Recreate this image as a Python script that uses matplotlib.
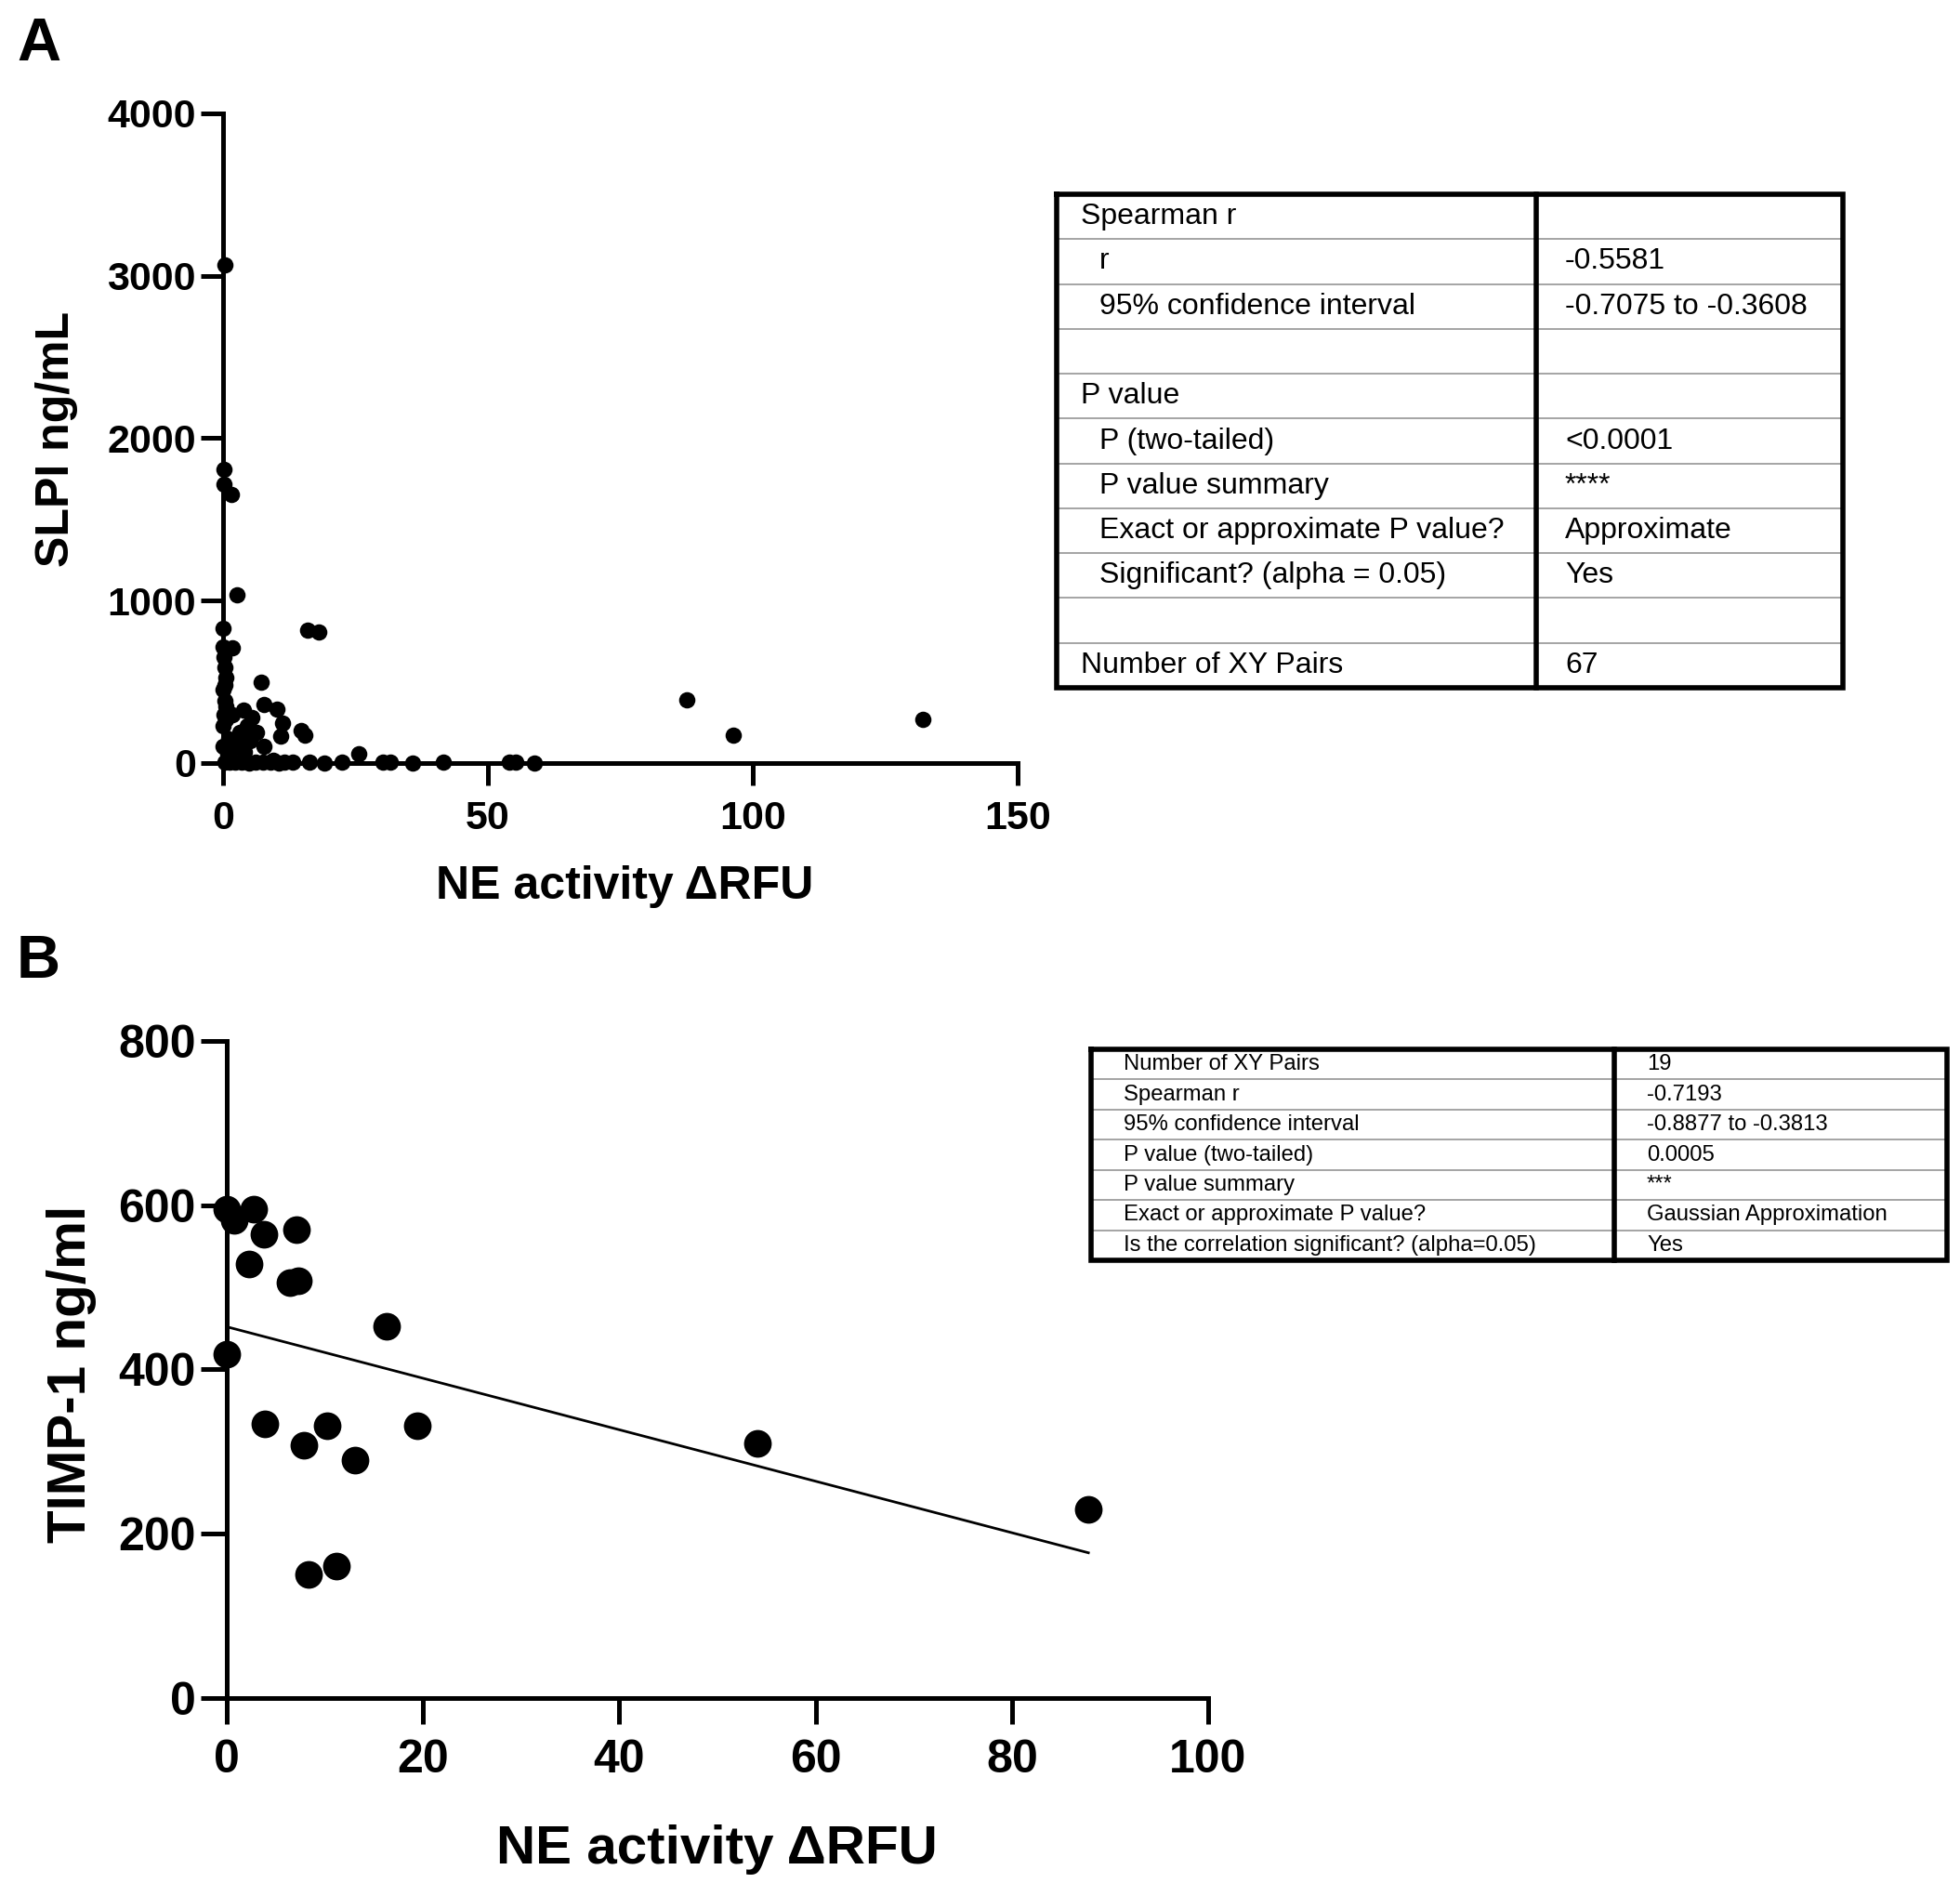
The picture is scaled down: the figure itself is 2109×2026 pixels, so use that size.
import numpy as np
import matplotlib.pyplot as plt

plt.rcParams['font.family'] = ['Liberation Sans', 'DejaVu Sans']

# panel A: SLPI vs NE activity (67 pairs)
slpi_ne = [0.3, 0.1, 0.1, 1.5, 2.6, 0.0, 0.0, 1.7, 16.0, 18.0,
           0.3, 0.6, 0.0, 7.2, 0.3, 0.6, 7.8, 10.2, 3.8, 5.5,
           11.3, 0.0, 14.8, 15.4, 3.2, 6.4, 10.8, 2.9, 7.8, 0.0,
           25.6, 1.8, 4.5, 87.6, 96.3, 132.1,
           0.3, 1.2, 2.3, 3.5, 4.9, 6.1, 7.6, 9.0, 10.5, 11.6, 13.1,
           16.3, 19.2, 22.4, 30.2, 31.5, 35.8, 41.5, 54.1, 55.3, 58.8,
           0.2, 0.4, 0.1, 0.5, 1.0, 0.8, 2.0, 4.0, 5.0, 9.5]
slpi_conc = [3070, 1808, 1718, 1655, 1036, 830, 716, 710, 817, 805,
             592, 525, 450, 500, 385, 350, 363, 334, 324, 280,
             248, 230, 200, 172, 190, 190, 165, 143, 105, 105,
             60, 300, 230, 387, 170, 271,
             8, 5, 3, 4, 2, 6, 3, 5, 2, 4, 3,
             6, 2, 4, 3, 5, 2, 4, 3, 5, 2,
             650, 480, 300, 270, 150, 60, 100, 70, 140, 20]

# panel B: TIMP-1 vs NE activity (19 pairs)
timp_ne = [0.0, 0.8, 2.7, 3.8, 2.3, 7.1, 6.4, 7.3, 16.3, 0.0,
           3.9, 10.2, 7.9, 13.1, 19.4, 8.3, 11.2, 54.1, 87.8]
timp_conc = [595, 582, 595, 565, 528, 570, 506, 508, 452, 418,
             334, 331, 308, 290, 331, 150, 160, 310, 229]

table_a_left = ['Spearman r', 'r', '95% confidence interval', '', 'P value',
                'P (two-tailed)', 'P value summary', 'Exact or approximate P value?',
                'Significant? (alpha = 0.05)', '', 'Number of XY Pairs']
table_a_indent = [0, 1, 1, 0, 0, 1, 1, 1, 1, 0, 0]
table_a_right = ['', '-0.5581', '-0.7075 to -0.3608', '', '', '<0.0001', '****',
                 'Approximate', 'Yes', '', '67']

table_b_left = ['Number of XY Pairs', 'Spearman r', '95% confidence interval',
                'P value (two-tailed)', 'P value summary',
                'Exact or approximate P value?', 'Is the correlation significant? (alpha=0.05)']
table_b_right = ['19', '-0.7193', '-0.8877 to -0.3813', '0.0005', '***',
                 'Gaussian Approximation', 'Yes']

W, H = 2109, 2026
fig = plt.figure(figsize=(W / 100, H / 100), dpi=100)


def style_axes(ax, tick_len, label_size):
    for side in ['top', 'right']:
        ax.spines[side].set_visible(False)
    for side in ['left', 'bottom']:
        ax.spines[side].set_linewidth(3.6)
    ax.tick_params(length=tick_len, width=3.6, labelsize=label_size, direction='out')
    ax.tick_params(axis='x', pad=12)
    ax.tick_params(axis='y', pad=4)
    for lab in ax.get_xticklabels() + ax.get_yticklabels():
        lab.set_fontweight('bold')


# ---- panel A ----
axA = fig.add_axes([240 / W, 1 - 821 / H, 855 / W, 699 / H])
axA.scatter(slpi_ne, slpi_conc, s=160, color='black', zorder=3, clip_on=False, linewidths=0)
axA.set_xlim(0, 150)
axA.set_ylim(0, 4000)
axA.set_xticks([0, 50, 100, 150])
axA.set_yticks([0, 1000, 2000, 3000, 4000])
style_axes(axA, 17, 31)
axA.set_xlabel('NE activity \u0394RFU', fontsize=36, fontweight='bold', va='center')
axA.xaxis.set_label_coords(0.505, -0.190)
axA.set_ylabel('SLPI ng/mL', fontsize=36, fontweight='bold', va='center')
axA.yaxis.set_label_coords(-0.209, 0.498)

# ---- panel B ----
axB = fig.add_axes([244 / W, 1 - 1826.7 / H, 1056 / W, 706.7 / H])
axB.scatter(timp_ne, timp_conc, s=460, color='black', zorder=3, clip_on=False, linewidths=0)
slope, intercept = np.polyfit(timp_ne, timp_conc, 1)
xs = np.array([min(timp_ne), max(timp_ne)])
axB.plot(xs, slope * xs + intercept, color='black', lw=2)
axB.set_xlim(0, 100)
axB.set_ylim(0, 800)
axB.set_xticks([0, 20, 40, 60, 80, 100])
axB.set_yticks([0, 200, 400, 600, 800])
style_axes(axB, 20, 36)
axB.set_xlabel('NE activity \u0394RFU', fontsize=42, fontweight='bold', va='center')
axB.xaxis.set_label_coords(0.499, -0.231)
axB.set_ylabel('TIMP-1 ng/ml', fontsize=42, fontweight='bold', va='center')
axB.yaxis.set_label_coords(-0.158, 0.493)

# panel letters
fig.text(18 / W, 1 - 65 / H, 'A', fontsize=47, fontweight='bold', va='baseline')
fig.text(18 / W, 1 - 1052 / H, 'B', fontsize=47, fontweight='bold', va='baseline')

# ---- result tables drawn in pixel coordinates ----
ov = fig.add_axes([0, 0, 1, 1])
ov.set_xlim(0, W)
ov.set_ylim(H, 0)
ov.axis('off')


def draw_table(left, right, top, bottom, divider, lefts, rights, indents,
               x_text, x_indent, x_right, fsize, border):
    n = len(lefts)
    rh = (bottom - top) / n
    for i in range(1, n):
        y = top + i * rh
        ov.plot([left, right], [y, y], color='#8c8c8c', lw=1.1)
    ov.plot([left, right, right, left, left], [top, top, bottom, bottom, top],
            color='black', lw=border, solid_joinstyle='miter')
    ov.plot([divider, divider], [top, bottom], color='black', lw=border)
    for i in range(n):
        yc = top + (i + 0.5) * rh
        xl = x_indent if indents[i] else x_text
        ov.text(xl, yc, lefts[i], fontsize=fsize, va='center', ha='left')
        ov.text(x_right, yc, rights[i], fontsize=fsize, va='center', ha='left')


draw_table(1137, 1983, 209, 740, 1653, table_a_left, table_a_right, table_a_indent,
           1163, 1183, 1684, 23, 4)
draw_table(1174, 2095, 1129, 1356, 1737, table_b_left, table_b_right, [0] * 7,
           1209, 1209, 1772, 17.2, 4)

fig.savefig('out.png', dpi=100)
